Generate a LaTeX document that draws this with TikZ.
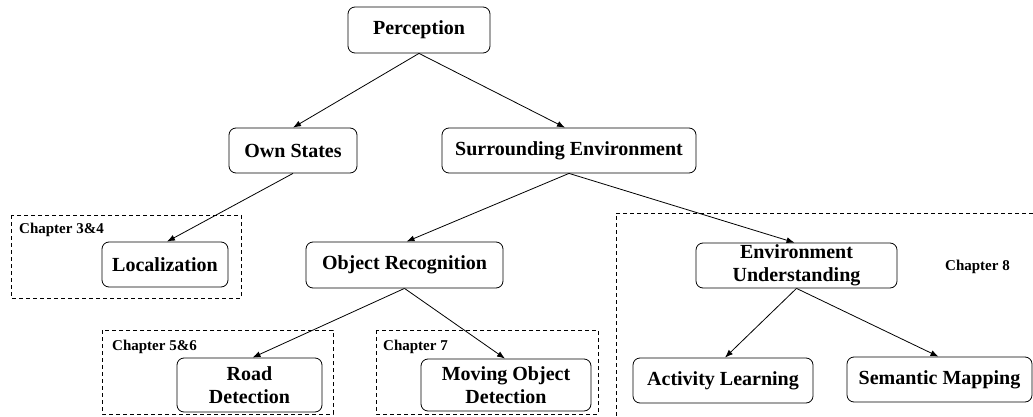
\documentclass[tikz,border=0pt]{standalone}
\usepackage{fontspec}
\setmainfont{Liberation Serif}
\usetikzlibrary{arrows.meta}
\tikzset{
  box/.style={draw, rounded corners=7pt, line width=0.8pt, inner sep=0pt,
    align=center, font=\bfseries\fontsize{20}{23.5}\selectfont},
  chap/.style={inner sep=0pt, anchor=west, font=\bfseries\fontsize{15}{17}\selectfont},
  group/.style={draw, dashed, line width=0.8pt, dash pattern=on 4pt off 3pt},
  link/.style={line width=0.8pt, -{Latex[length=8pt,width=6pt]}}
}
\begin{document}
\begin{tikzpicture}[x=1pt, y=-1pt]
\useasboundingbox (0,0) rectangle (1033,417);

% chapter groups
\draw[group] (11,215) rectangle (241,298);
\draw[group] (102,330) rectangle (333,414);
\draw[group] (376,330) rectangle (598,414);
\draw[group] (1033,213) -- (616,213) -- (616,417);

\node[chap] (c34) at (19,230) {Chapter 3\&4};
\node[chap] (c56) at (112,347) {Chapter 5\&6};
\node[chap] (c7)  at (383,347) {Chapter 7};
\node[chap] (c8)  at (945,267) {Chapter 8};

% tree nodes
\node[box, minimum width=142pt, minimum height=46pt] (per) at (419,30) {Perception};
\node[box, minimum width=128pt, minimum height=45pt] (own) at (293,150.5) {Own States};
\node[box, minimum width=254pt, minimum height=45pt] (sur) at (569,150.5) {Surrounding Environment};
\node[box, minimum width=126pt, minimum height=45pt] (loc) at (165,264.5) {Localization};
\node[box, minimum width=197pt, minimum height=46pt] (obj) at (404.5,265) {Object Recognition};
\node[box, minimum width=201pt, minimum height=45pt] (env) at (796.5,265.5) {Environment\\Understanding};
\node[box, minimum width=145pt, minimum height=54pt] (road) at (249.5,385) {Road\\Detection};
\node[box, minimum width=170pt, minimum height=52pt] (mov) at (506,385) {Moving Object\\Detection};
\node[box, minimum width=180pt, minimum height=45pt] (act) at (723,380.5) {Activity Learning};
\node[box, minimum width=185pt, minimum height=45pt] (sem) at (939.5,379.5) {Semantic Mapping};

% connectors
\draw[link] (per.south) -- (own.north);
\draw[link] (per.south) -- ([xshift=-4pt]sur.north);
\draw[link] (own.south) -- ([xshift=2pt]loc.north);
\draw[link] (sur.south) -- ([xshift=2pt]obj.north);
\draw[link] (sur.south) -- ([xshift=-2pt]env.north);
\draw[link] (obj.south) -- ([xshift=3pt]road.north);
\draw[link] (obj.south) -- ([xshift=-1pt]mov.north);
\draw[link] (env.south) -- ([xshift=2pt]act.north);
\draw[link] (env.south) -- ([xshift=-1pt]sem.north);
\end{tikzpicture}
\end{document}
